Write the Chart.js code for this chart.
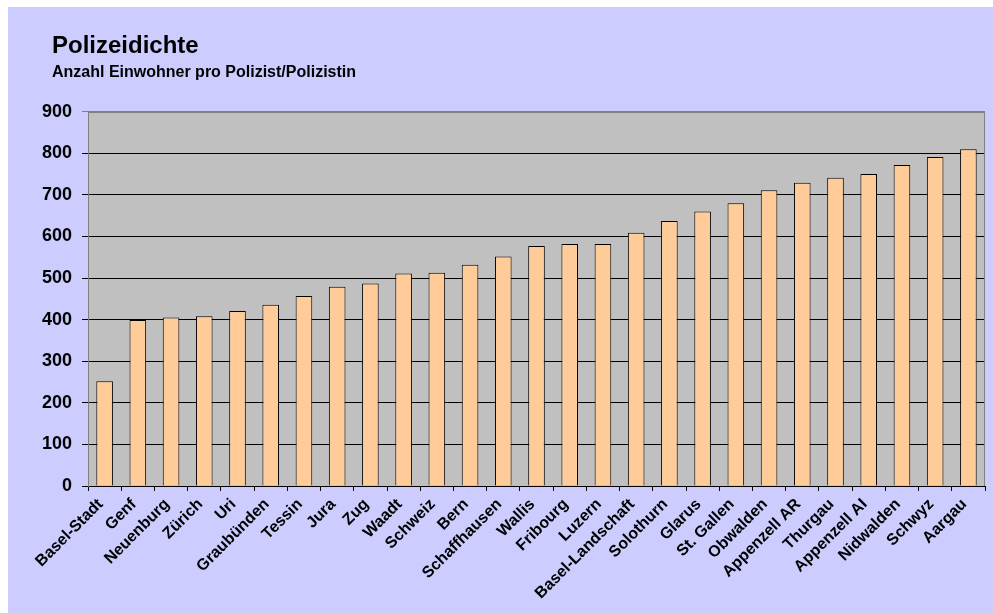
<!DOCTYPE html>
<html>
<head>
<meta charset="utf-8">
<script src="https://cdn.jsdelivr.net/npm/chart.js@4/dist/chart.umd.min.js"></script>
<style>
  html, body { margin: 0; padding: 0; background: #ffffff; }
  #wrap { position: absolute; left: 8px; top: 7px; width: 985px; height: 606px; background: #CCCCFF; }
  canvas { display: block; position: absolute; left: 0; top: 0; }
  .t { position: absolute; font-family: 'Liberation Sans', Arial, sans-serif; font-weight: bold; color: #000; white-space: nowrap; }
  #title { left: 44px; top: 26px; font-size: 24px; line-height: 24px; }
  #subtitle { left: 44px; top: 56.5px; font-size: 16px; line-height: 16px; }
</style>
</head>
<body>
<div id="wrap">
  <canvas id="c" width="985" height="606"></canvas>
  <div class="t" id="title"></div>
  <div class="t" id="subtitle"></div>
</div>
<script>
const titleText = "Polizeidichte";
const subtitleText = "Anzahl Einwohner pro Polizist/Polizistin";
const categories = ["Basel-Stadt","Genf","Neuenburg","Zürich","Uri","Graubünden","Tessin","Jura","Zug","Waadt","Schweiz","Bern","Schaffhausen","Wallis","Fribourg","Luzern","Basel-Landschaft","Solothurn","Glarus","St. Gallen","Obwalden","Appenzell AR","Thurgau","Appenzell AI","Nidwalden","Schwyz","Aargau"];
const values = [252,399,405,408,421,436,457,479,487,511,513,532,552,577,582,582,609,637,660,680,711,729,741,750,772,791,810];
const yMin = 0, yMax = 900, yStep = 100;

document.getElementById('title').textContent = titleText;
document.getElementById('subtitle').textContent = subtitleText;

const FONT = "'Liberation Sans', Arial, sans-serif";

const plotBg = {
  id: 'plotBg',
  beforeDraw(chart) {
    const {ctx, chartArea: a} = chart;
    ctx.save();
    ctx.fillStyle = '#C0C0C0';
    ctx.fillRect(a.left, a.top, a.right - a.left, a.bottom - a.top);
    ctx.restore();
  },
  afterDatasetsDraw(chart) {
    const {ctx, chartArea: a} = chart;
    ctx.save();
    ctx.strokeStyle = '#808080';
    ctx.lineWidth = 1;
    ctx.beginPath();
    ctx.moveTo(Math.round(a.left) + 0.5, Math.round(a.top) + 0.5);
    ctx.lineTo(Math.round(a.right) - 0.5, Math.round(a.top) + 0.5);
    ctx.lineTo(Math.round(a.right) - 0.5, Math.round(a.bottom));
    ctx.stroke();
    ctx.restore();
  }
};

new Chart(document.getElementById('c'), {
  type: 'bar',
  data: {
    labels: categories,
    datasets: [{
      data: values,
      backgroundColor: '#FFCC99',
      borderColor: '#000000',
      borderWidth: 1,
      categoryPercentage: 1.0,
      barPercentage: 0.5
    }]
  },
  plugins: [plotBg],
  options: {
    responsive: false,
    animation: false,
    layout: { padding: { left: 30, right: 8, top: 104.7, bottom: 0 } },
    plugins: {
      legend: { display: false },
      tooltip: { enabled: false },
      title: { display: false },
      subtitle: { display: false }
    },
    scales: {
      x: {
        grid: { display: true, drawOnChartArea: false, drawTicks: true, tickLength: 5, color: '#000', offset: true },
        border: { display: true, color: '#000', width: 1 },
        ticks: {
          autoSkip: false, maxRotation: 45, minRotation: 45, padding: 4, labelOffset: -4,
          color: '#000', font: { family: FONT, size: 16, weight: 'bold' }
        },
        afterFit(scale) { scale.height = 127; }
      },
      y: {
        min: yMin, max: yMax,
        grid: {
          color: (c) => (c.tick && c.tick.value === yMax) ? '#808080' : '#000',
          lineWidth: 1, tickLength: 6, drawTicks: true
        },
        border: { display: true, color: '#808080', width: 1 },
        ticks: {
          stepSize: yStep, padding: 10, color: '#000',
          font: { family: FONT, size: 18, weight: 'bold' }
        },
        afterFit(scale) { scale.width = 50; }
      }
    }
  }
});
</script>
</body>
</html>
